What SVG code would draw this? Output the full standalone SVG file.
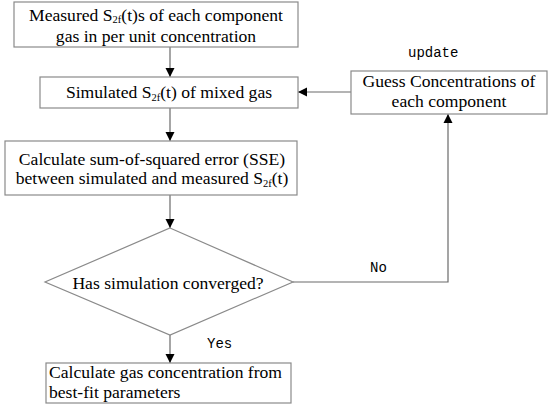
<svg xmlns="http://www.w3.org/2000/svg" width="550" height="408" viewBox="0 0 550 408">
<style>
.box{fill:#fff;stroke:#8a8a8a;stroke-width:1.2}
.t{font-family:"Liberation Serif","Times New Roman",serif;font-size:17.6px;fill:#000}
.s{font-size:10.5px}
.m{font-family:"Liberation Mono","Courier New",monospace;font-size:14px;fill:#000}
.c{fill:none;stroke:#6a6a6a;stroke-width:1.2}
</style>
<defs>
<marker id="ah" markerWidth="10" markerHeight="10" refX="9" refY="5" orient="auto" markerUnits="userSpaceOnUse">
<path d="M0,0.5 L9,5 L0,9.5 Z" fill="#000"/>
</marker>
</defs>
<rect width="550" height="408" fill="#fff"/>
<g id="connectors">
<line class="c" x1="170" y1="47" x2="170" y2="77" marker-end="url(#ah)"/>
<line class="c" x1="170" y1="108" x2="170" y2="141" marker-end="url(#ah)"/>
<line class="c" x1="170" y1="195" x2="170" y2="228" marker-end="url(#ah)"/>
<line class="c" x1="170" y1="335" x2="170" y2="363" marker-end="url(#ah)"/>
<polyline class="c" points="293,282 448,282 448,114" marker-end="url(#ah)"/>
<line class="c" x1="351" y1="92" x2="298" y2="92" marker-end="url(#ah)"/>
<text class="m" x="370" y="272">No</text>
<text class="m" x="207" y="348">Yes</text>
<text class="m" x="408" y="57">update</text>
</g>
<g id="n1">
<rect class="box" x="14" y="2" width="284" height="45"/>
<text class="t" x="156" y="21" text-anchor="middle">Measured S<tspan class="s" dy="2">2f</tspan><tspan dy="-2">(t)s of each component</tspan></text>
<text class="t" x="156" y="41.5" text-anchor="middle">gas in per unit concentration</text>
</g>
<g id="n2">
<rect class="box" x="40" y="77" width="258" height="31"/>
<text class="t" x="169" y="98" text-anchor="middle">Simulated S<tspan class="s" dy="2.5">2f</tspan><tspan dy="-2.5">(t) of mixed gas</tspan></text>
</g>
<g id="n3">
<rect class="box" x="5" y="141" width="292" height="54"/>
<text class="t" x="152" y="165" text-anchor="middle">Calculate sum-of-squared error (SSE)</text>
<text class="t" x="152" y="184" text-anchor="middle">between simulated and measured S<tspan class="s" dy="2.5">2f</tspan><tspan dy="-2.5">(t)</tspan></text>
</g>
<g id="n4">
<polygon class="box" points="170,228 293,282 170,335 45,282"/>
<text class="t" x="168" y="289" text-anchor="middle">Has simulation converged?</text>
</g>
<g id="n5">
<rect class="box" x="351" y="71" width="196" height="43"/>
<text class="t" x="449" y="87" text-anchor="middle">Guess Concentrations of</text>
<text class="t" x="449" y="107" text-anchor="middle">each component</text>
</g>
<g id="n6">
<rect class="box" x="46" y="363" width="245" height="40"/>
<text class="t" x="49" y="378">Calculate gas concentration from</text>
<text class="t" x="49" y="398">best-fit parameters</text>
</g>
</svg>
